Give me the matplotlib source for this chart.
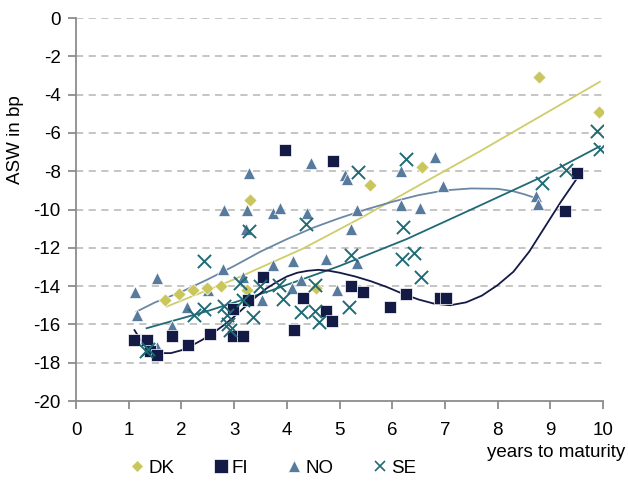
import numpy as np
import matplotlib
matplotlib.use("Agg")
import matplotlib.pyplot as plt
from matplotlib.lines import Line2D

plt.rcParams['font.family'] = ['Liberation Sans', 'DejaVu Sans']
plt.rcParams['axes.unicode_minus'] = False

# scatter data (years to maturity, ASW in bp)
dk_x = [1.69, 1.96, 2.22, 2.48, 2.75, 3.24, 3.30, 4.55, 5.57, 6.56, 8.79, 9.93]
dk_y = [-14.7, -14.4, -14.2, -14.1, -14.0, -14.2, -9.5, -14.1, -8.7, -7.8, -3.1, -4.9]

fi_x = [1.11, 1.35, 1.40, 1.53, 1.83, 2.13, 2.54, 2.98, 3.17, 2.98, 3.27, 3.54, 3.97,
        4.31, 4.14, 4.74, 4.88, 4.86, 5.21, 5.45, 5.96, 6.27, 6.90, 7.02, 9.28, 9.50]
fi_y = [-16.8, -16.8, -17.4, -17.6, -16.6, -17.1, -16.5, -16.6, -16.6, -15.2, -14.7, -13.5, -6.9,
        -14.6, -16.3, -15.3, -7.45, -15.8, -14.0, -14.3, -15.1, -14.4, -14.6, -14.6, -10.1, -8.1]

no_x = [1.12, 1.15, 1.54, 1.54, 1.83, 2.10, 2.50, 2.78, 2.80, 3.16, 3.22, 3.24, 3.28, 3.52,
        3.74, 3.74, 3.88, 4.09, 4.12, 4.26, 4.38, 4.46, 4.74, 4.95, 5.10, 5.14, 5.22, 5.33,
        5.34, 6.17, 6.17, 6.53, 6.81, 6.96, 8.72, 8.76]
no_y = [-14.3, -15.5, -13.6, -17.2, -16.1, -15.1, -14.2, -13.1, -10.0, -13.5, -11.0, -10.0, -8.1, -14.7,
        -12.9, -10.2, -9.9, -14.1, -12.7, -13.7, -10.2, -7.55, -12.6, -14.2, -8.2, -8.4, -11.0, -10.0,
        -12.8, -8.0, -9.75, -9.9, -7.25, -8.75, -9.3, -9.7]

se_x = [1.33, 1.37, 2.24, 2.42, 2.43, 2.80, 2.86, 2.89, 2.92, 3.12, 3.17, 3.29, 3.35, 3.49,
        3.86, 3.93, 4.26, 4.36, 4.54, 4.54, 4.62, 5.18, 5.22, 5.36, 6.18, 6.21, 6.27, 6.41,
        6.55, 8.84, 9.30, 9.88, 9.94]
se_y = [-17.4, -17.3, -15.5, -15.2, -12.7, -15.05, -15.5, -16.0, -16.3, -13.85, -14.75, -11.1, -15.6, -14.0,
        -13.95, -14.65, -15.35, -10.75, -13.95, -15.3, -15.85, -15.1, -12.4, -8.05, -12.6, -10.9, -7.35, -12.25,
        -13.5, -8.6, -7.95, -5.9, -6.85]

# trend lines
dk_tx = [1.72, 3.0, 4.3, 5.4, 6.5, 7.67, 8.8, 9.94]
dk_ty = [-15.07, -13.65, -12.05, -10.45, -8.75, -6.95, -5.15, -3.33]

fi_tx = [1.11, 1.2, 1.3, 1.45, 1.6, 1.8, 2.0, 2.2, 2.4, 2.6, 2.8, 3.0, 3.2, 3.4, 3.6, 3.8,
         4.0, 4.2, 4.4, 4.6, 4.8, 5.0, 5.3, 5.6, 5.9, 6.2, 6.5, 6.8, 7.1, 7.4, 7.7, 8.0,
         8.3, 8.6, 8.9, 9.2, 9.5]
fi_ty = [-16.3, -16.7, -17.05, -17.35, -17.5, -17.5, -17.35, -17.1, -16.8, -16.45, -16.05, -15.6, -15.1, -14.6, -14.15, -13.8,
         -13.5, -13.3, -13.2, -13.15, -13.2, -13.3, -13.5, -13.75, -14.05, -14.4, -14.7, -14.92, -15.0, -14.85, -14.5, -13.95,
         -13.25, -12.2, -10.9, -9.6, -8.4]

no_tx = [1.15, 1.5, 2.0, 2.5, 3.0, 3.5, 4.0, 4.5, 5.0, 5.5, 6.0, 6.5, 7.0, 7.5, 8.0, 8.3, 8.5, 8.72]
no_ty = [-15.33, -14.85, -14.3, -13.65, -12.95, -12.2, -11.55, -10.95, -10.45, -10.0, -9.6, -9.25, -9.0, -8.9, -8.92, -9.05, -9.2, -9.4]

se_tx = [1.34, 2.5, 3.68, 5.0, 6.27, 7.5, 8.8, 9.94]
se_ty = [-16.2, -15.3, -14.25, -12.95, -11.55, -10.0, -8.35, -6.7]

c_dk = '#c8c65c'
c_fi = '#131a45'
c_no = '#587a9c'
c_se = '#1f6a75'
fs = 13.5

fig = plt.figure(figsize=(6.28, 4.86), dpi=100)
ax = fig.add_axes([76 / 628, 1 - 401 / 486, 527 / 628, 383 / 486])

ax.set_xlim(0, 10)
ax.set_ylim(-20, 0)
ax.set_yticks(np.arange(-20, 1, 2))
ax.set_xticks(np.arange(0, 11, 1))
for y in np.arange(-18, 1, 2):
    ax.axhline(y, color='#c0c0c0', lw=1.3, ls=(0, (4, 3)), zorder=0)

ax.plot(dk_tx, dk_ty, color='#cfcd6a', lw=1.3, zorder=2)
ax.plot(no_tx, no_ty, color='#6a88a6', lw=1.3, zorder=2)
ax.plot(se_tx, se_ty, color=c_se, lw=1.3, zorder=2)
ax.plot(fi_tx, fi_ty, color=c_fi, lw=1.3, zorder=2)

ax.scatter(no_x, no_y, marker='^', s=75, color=c_no, edgecolors='white', linewidths=0.5, zorder=3)
ax.scatter(dk_x, dk_y, marker='D', s=45, color=c_dk, edgecolors='white', linewidths=0.5, zorder=3)
ax.scatter(fi_x, fi_y, marker='s', s=85, color=c_fi, edgecolors='white', linewidths=0.5, zorder=3)
ax.scatter(se_x, se_y, marker='x', s=90, color=c_se, linewidths=1.4, zorder=4)

for s in ['top', 'right']:
    ax.spines[s].set_visible(False)
for s in ['left', 'bottom']:
    ax.spines[s].set_color('#8c8c8c')
    ax.spines[s].set_linewidth(1.3)
ax.tick_params(axis='both', colors='#8c8c8c', length=6, width=1.3, labelsize=fs, labelcolor='black')
ax.tick_params(axis='x', pad=9)
ax.tick_params(axis='y', pad=5)

fig.text(16 / 628, 1 - 140 / 486, 'ASW in bp', rotation=90, fontsize=fs, ha='center', va='center')
fig.text(625 / 628, 1 - 452 / 486, 'years to maturity', fontsize=fs, ha='right', va='center')

handles = [
    Line2D([], [], ls='', marker='D', ms=6, color=c_dk, mec='white', mew=0.5),
    Line2D([], [], ls='', marker='s', ms=10, color=c_fi, mec='white', mew=0.5),
    Line2D([], [], ls='', marker='^', ms=8, color=c_no, mec='white', mew=0.5),
    Line2D([], [], ls='', marker='x', ms=7, color=c_se, mew=1.2),
]
fig.legend(handles, ['DK', 'FI', 'NO', 'SE'], loc='center', bbox_to_anchor=(272 / 628, 1 - 468 / 486),
           ncol=4, frameon=False, fontsize=fs, handletextpad=0.1, columnspacing=1.95,
           handlelength=1.0, borderpad=0)

fig.savefig('out.png', dpi=100)
